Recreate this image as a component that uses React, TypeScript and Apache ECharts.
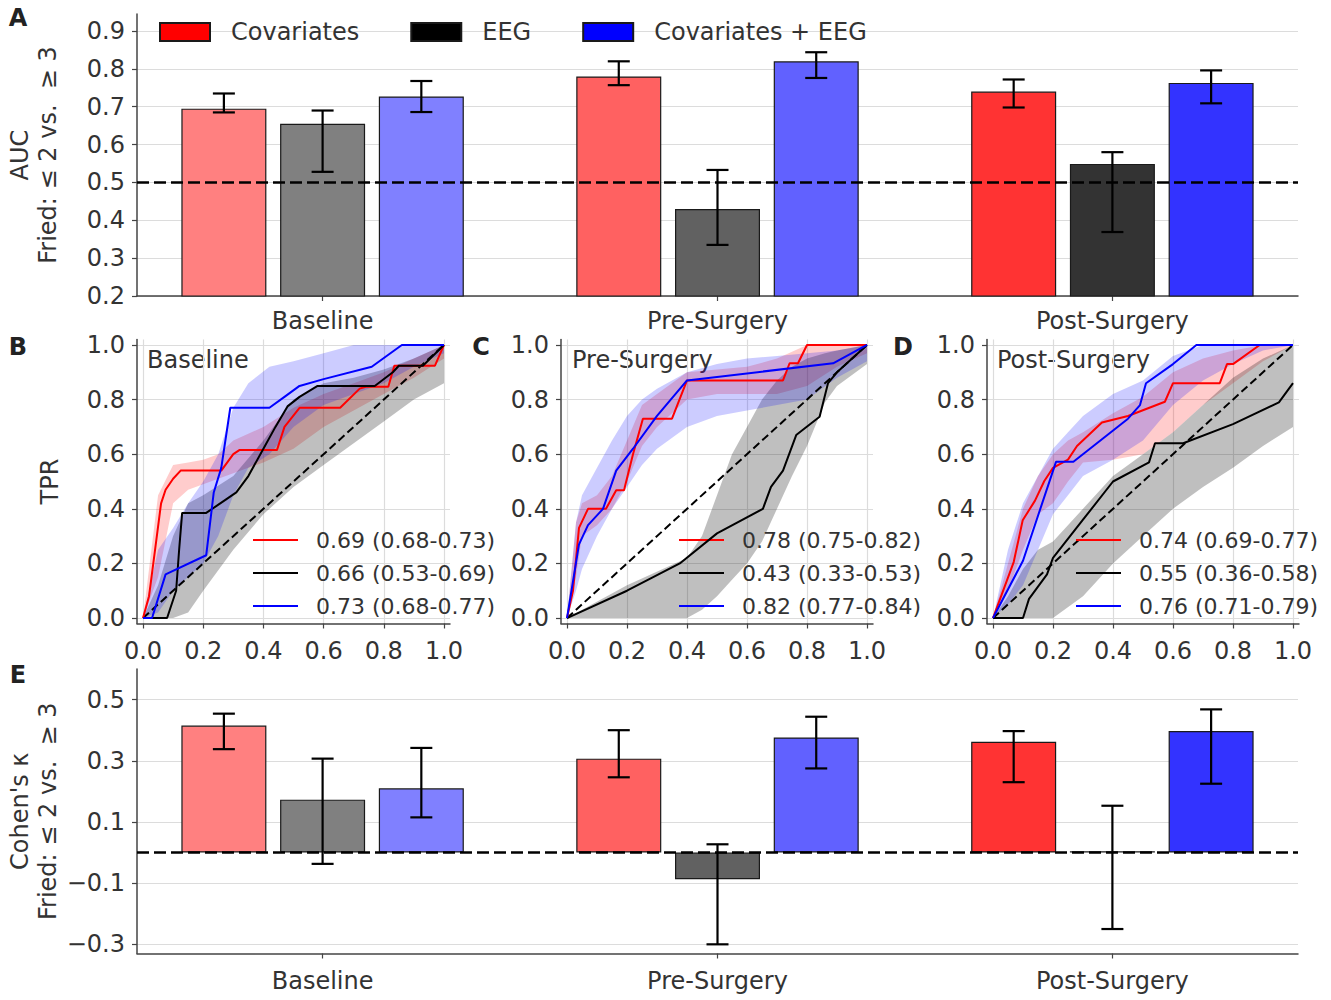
import React, { useEffect, useRef } from "react";
import * as echarts from "echarts";

// ---------- data ----------
const groups = ["Baseline", "Pre-Surgery", "Post-Surgery"];
const models = ["Covariates", "EEG", "Covariates + EEG"];

const aucCov = [0.695, 0.78, 0.74];
const aucCovLo = [0.685, 0.757, 0.698];
const aucCovHi = [0.735, 0.82, 0.772];
const aucEeg = [0.655, 0.43, 0.549];
const aucEegLo = [0.528, 0.335, 0.369];
const aucEegHi = [0.69, 0.533, 0.58];
const aucBoth = [0.727, 0.82, 0.763];
const aucBothLo = [0.686, 0.776, 0.709];
const aucBothHi = [0.768, 0.844, 0.796];

const kapCov = [0.415, 0.307, 0.362];
const kapCovLo = [0.338, 0.246, 0.23];
const kapCovHi = [0.454, 0.4, 0.397];
const kapEeg = [0.173, -0.087, 0.004];
const kapEegLo = [-0.037, -0.3, -0.25];
const kapEegHi = [0.307, 0.027, 0.153];
const kapBoth = [0.21, 0.376, 0.397];
const kapBothLo = [0.115, 0.275, 0.225];
const kapBothHi = [0.342, 0.444, 0.468];

const aucTicks = [0.2, 0.3, 0.4, 0.5, 0.6, 0.7, 0.8, 0.9];
const kapTicks = [-0.3, -0.1, 0.1, 0.3, 0.5];
const rocTicks = [0, 0.2, 0.4, 0.6, 0.8, 1.0];

const rocLegendBase = ["0.69 (0.68-0.73)", "0.66 (0.53-0.69)", "0.73 (0.68-0.77)"];
const rocLegendPre = ["0.78 (0.75-0.82)", "0.43 (0.33-0.53)", "0.82 (0.77-0.84)"];
const rocLegendPost = ["0.74 (0.69-0.77)", "0.55 (0.36-0.58)", "0.76 (0.71-0.79)"];

// mean ROC curves [fpr, tpr]
const rocBaseCov = [[0,0],[0.02,0.08],[0.04,0.25],[0.06,0.42],[0.075,0.47],[0.1,0.51],[0.125,0.54],[0.26,0.54],[0.3,0.6],[0.32,0.615],[0.445,0.615],[0.47,0.7],[0.52,0.77],[0.655,0.77],[0.72,0.84],[0.74,0.847],[0.815,0.847],[0.835,0.924],[0.97,0.924],[1,1]];
const rocBaseEeg = [[0,0],[0.08,0],[0.11,0.1],[0.12,0.25],[0.13,0.385],[0.21,0.385],[0.27,0.43],[0.31,0.46],[0.35,0.52],[0.4,0.62],[0.44,0.7],[0.48,0.775],[0.52,0.81],[0.58,0.85],[0.77,0.85],[0.83,0.9],[0.85,0.924],[0.93,0.924],[1,1]];
const rocBaseBoth = [[0,0],[0.03,0],[0.075,0.16],[0.21,0.23],[0.235,0.46],[0.26,0.55],[0.29,0.77],[0.42,0.77],[0.47,0.81],[0.52,0.85],[0.6,0.875],[0.76,0.92],[0.86,1.0],[1,1]];

const rocPreCov = [[0,0],[0.02,0.1],[0.04,0.33],[0.07,0.4],[0.13,0.4],[0.164,0.468],[0.19,0.468],[0.22,0.6],[0.253,0.73],[0.35,0.73],[0.4,0.87],[0.72,0.87],[0.742,0.933],[0.77,0.933],[0.8,1.0],[1,1]];
const rocPreEeg = [[0,0],[0.2,0.1],[0.376,0.2],[0.5,0.31],[0.653,0.4],[0.68,0.48],[0.72,0.54],[0.764,0.67],[0.842,0.737],[0.87,0.86],[0.9,0.9],[1,1]];
const rocPreBoth = [[0,0],[0.04,0.27],[0.07,0.34],[0.12,0.4],[0.164,0.54],[0.22,0.62],[0.3,0.74],[0.4,0.87],[0.887,0.933],[1,1]];

const rocPostCov = [[0,0],[0.069,0.205],[0.099,0.358],[0.14,0.43],[0.171,0.502],[0.2,0.55],[0.25,0.58],[0.28,0.63],[0.363,0.716],[0.45,0.74],[0.573,0.792],[0.6,0.86],[0.756,0.86],[0.78,0.93],[0.8,0.93],[0.889,1.0],[1,1]];
const rocPostEeg = [[0,0],[0.1,0],[0.12,0.07],[0.18,0.16],[0.2,0.22],[0.3,0.36],[0.4,0.5],[0.52,0.57],[0.54,0.64],[0.634,0.64],[0.8,0.71],[0.953,0.79],[1,0.86]];
const rocPostBoth = [[0,0],[0.1,0.21],[0.21,0.572],[0.268,0.572],[0.45,0.73],[0.49,0.78],[0.51,0.86],[0.6,0.93],[0.678,1.0],[1,1]];

// confidence bands [fpr, lower, upper]
const bandBaseCov = [[0,0,0],[0.05,0.15,0.45],[0.1,0.42,0.56],[0.15,0.47,0.57],[0.2,0.49,0.58],[0.25,0.51,0.6],[0.3,0.53,0.65],[0.4,0.57,0.7],[0.5,0.62,0.77],[0.6,0.7,0.82],[0.7,0.76,0.86],[0.8,0.82,0.9],[0.9,0.88,0.95],[1,0.95,1]];
const bandBaseEeg = [[0,0,0],[0.05,0,0.12],[0.1,0,0.3],[0.15,0.02,0.42],[0.2,0.1,0.45],[0.3,0.25,0.52],[0.4,0.38,0.65],[0.5,0.48,0.8],[0.6,0.56,0.86],[0.7,0.64,0.88],[0.8,0.72,0.91],[0.9,0.8,0.95],[1,0.86,1]];
const bandBaseBoth = [[0,0,0],[0.05,0.02,0.25],[0.1,0.1,0.33],[0.15,0.15,0.42],[0.2,0.2,0.5],[0.25,0.3,0.6],[0.3,0.45,0.77],[0.35,0.55,0.86],[0.42,0.6,0.92],[0.5,0.7,0.94],[0.6,0.78,0.97],[0.7,0.82,1],[0.8,0.86,1],[0.9,0.92,1],[1,0.97,1]];

const bandPreCov = [[0,0,0],[0.03,0.15,0.35],[0.05,0.3,0.42],[0.1,0.34,0.45],[0.15,0.4,0.52],[0.2,0.5,0.65],[0.25,0.63,0.78],[0.3,0.7,0.82],[0.4,0.8,0.9],[0.5,0.82,0.91],[0.6,0.82,0.92],[0.7,0.82,0.95],[0.8,0.85,1],[0.9,0.92,1],[1,0.97,1]];
const bandPreEeg = [[0,0,0],[0.2,0,0.12],[0.4,0,0.22],[0.45,0.03,0.3],[0.5,0.08,0.45],[0.55,0.14,0.6],[0.6,0.2,0.7],[0.65,0.28,0.8],[0.7,0.4,0.87],[0.75,0.52,0.92],[0.8,0.63,0.95],[0.86,0.79,0.97],[0.9,0.85,0.98],[1,0.93,1]];
const bandPreBoth = [[0,0,0],[0.03,0.1,0.35],[0.05,0.18,0.45],[0.1,0.3,0.55],[0.15,0.4,0.65],[0.2,0.48,0.74],[0.25,0.56,0.8],[0.3,0.62,0.84],[0.4,0.7,0.9],[0.5,0.74,0.93],[0.6,0.76,0.95],[0.7,0.78,0.96],[0.8,0.8,0.97],[0.9,0.88,0.98],[1,0.94,1]];

const bandPostCov = [[0,0,0],[0.05,0.1,0.2],[0.1,0.25,0.4],[0.15,0.38,0.52],[0.2,0.42,0.6],[0.25,0.5,0.65],[0.3,0.57,0.68],[0.4,0.58,0.75],[0.5,0.6,0.81],[0.6,0.68,0.9],[0.7,0.78,0.95],[0.8,0.86,0.98],[0.9,0.94,1],[1,1,1]];
const bandPostEeg = [[0,0,0],[0.05,0,0.08],[0.1,0,0.18],[0.15,0,0.25],[0.2,0,0.28],[0.3,0.08,0.4],[0.4,0.2,0.52],[0.5,0.3,0.6],[0.6,0.4,0.68],[0.7,0.48,0.78],[0.8,0.55,0.88],[0.9,0.63,0.95],[1,0.7,1]];
const bandPostBoth = [[0,0,0],[0.05,0.05,0.25],[0.1,0.12,0.42],[0.15,0.25,0.52],[0.2,0.38,0.62],[0.25,0.45,0.68],[0.3,0.52,0.74],[0.4,0.58,0.82],[0.5,0.65,0.87],[0.6,0.78,0.96],[0.7,0.87,1],[0.8,0.93,1],[0.9,0.98,1],[1,1,1]];

// ---------- styling ----------
const FONT = "DejaVu Sans";
const TXT = "#333333";
const lineColors = ["#ff0000", "#000000", "#0000ff"];
const bandColors = ["rgba(255,0,0,0.2)", "rgba(0,0,0,0.25)", "rgba(0,0,255,0.2)"];
const barFills = [
  ["#ff8080", "#ff6161", "#ff3333"],
  ["#808080", "#616161", "#333333"],
  ["#8080ff", "#6161ff", "#3333ff"],
];
const barOffsets = [-0.25, 0, 0.25];

const fmt1 = (v: number) => (v < 0 ? "\u2212" + Math.abs(v).toFixed(1) : v.toFixed(1));

function buildOption() {
  const grids = [
    { left: 137, top: 14, width: 1161, height: 282 },
    { left: 137, top: 339.5, width: 313, height: 284 },
    { left: 561, top: 339.5, width: 312, height: 284 },
    { left: 987, top: 339.5, width: 312, height: 284 },
    { left: 137, top: 669, width: 1161, height: 284.5 },
  ].map((g) => ({ ...g, containLabel: false, outerBoundsMode: "none" }));

  const spine = { show: true, onZero: false, lineStyle: { color: "#444", width: 1.5 } };
  const tick = (vals: number[]) => ({ show: true, customValues: vals, length: 5, lineStyle: { color: "#444", width: 1.2 } });
  const split = { show: true, lineStyle: { color: "#dcdcdc", width: 1.2 } };
  const lab = (vals: number[], formatter: any, margin: number) => ({
    customValues: vals, formatter, margin, color: TXT, fontSize: 24, fontFamily: FONT,
  });

  const groupFmt = (v: number) => groups[Math.round(v)] ?? "";

  const xAxis: any[] = [
    { type: "value", gridIndex: 0, min: -0.47, max: 2.47, axisLine: spine, axisTick: tick([0, 1, 2]), splitLine: { show: false }, axisLabel: lab([0, 1, 2], groupFmt, 13) },
    ...[1, 2, 3].map((g) => ({ type: "value", gridIndex: g, min: -0.02, max: 1.02, axisLine: spine, axisTick: tick(rocTicks), splitLine: split, axisLabel: lab(rocTicks, fmt1, 15) })),
    { type: "value", gridIndex: 4, min: -0.47, max: 2.47, axisLine: spine, axisTick: tick([0, 1, 2]), splitLine: { show: false }, axisLabel: lab([0, 1, 2], groupFmt, 15) },
  ];
  const nameStyle = { color: TXT, fontSize: 24, fontFamily: FONT, lineHeight: 28 };
  const yAxis: any[] = [
    { type: "value", gridIndex: 0, min: 0.2, max: 0.945, axisLine: spine, axisTick: tick(aucTicks), splitLine: split, axisLabel: lab(aucTicks, fmt1, 12),
      name: "AUC\nFried: \u2264 2 vs.  \u2265 3", nameLocation: "middle", nameRotate: 90, nameGap: 75, nameMoveOverlap: false, nameTextStyle: nameStyle },
    ...[1, 2, 3].map((g) => ({ type: "value", gridIndex: g, min: -0.02, max: 1.02, axisLine: spine, axisTick: tick(rocTicks), splitLine: split, axisLabel: lab(rocTicks, fmt1, 12),
      name: g === 1 ? "TPR" : "", nameLocation: "middle", nameRotate: 90, nameGap: 73, nameMoveOverlap: false, nameTextStyle: nameStyle })),
    { type: "value", gridIndex: 4, min: -0.33, max: 0.6, axisLine: spine, axisTick: tick(kapTicks), splitLine: split, axisLabel: lab(kapTicks, fmt1, 12),
      name: "Cohen's \u03ba\nFried: \u2264 2 vs.  \u2265 3", nameLocation: "middle", nameRotate: 90, nameGap: 75, nameMoveOverlap: false, nameTextStyle: nameStyle },
  ];

  const series: any[] = [];

  const errRender = (params: any, api: any) => {
    const x = api.value(0), lo = api.value(1), hi = api.value(2);
    const a = api.coord([x, lo]);
    const b = api.coord([x, hi]);
    const h = 11;
    const style = { stroke: "#000", lineWidth: 2.2 };
    return {
      type: "group",
      children: [
        { type: "line", shape: { x1: a[0], y1: a[1], x2: b[0], y2: b[1] }, style },
        { type: "line", shape: { x1: a[0] - h, y1: a[1], x2: a[0] + h, y2: a[1] }, style },
        { type: "line", shape: { x1: b[0] - h, y1: b[1], x2: b[0] + h, y2: b[1] }, style },
      ],
    };
  };

  const barPanel = (gi: number, vals: number[][], los: number[][], his: number[][], ref: number) => {
    models.forEach((m, mi) => {
      series.push({
        type: "bar", name: m, xAxisIndex: gi, yAxisIndex: gi, barWidth: 85, barGap: "-100%",
        itemStyle: { color: lineColors[mi], borderColor: "#1a1a1a", borderWidth: 1.2 },
        data: groups.map((_, i) => ({ value: [i + barOffsets[mi], vals[mi][i]], itemStyle: { color: barFills[mi][i] } })),
        markLine: mi === 0 ? {
          silent: true, symbol: ["none", "none"], label: { show: false }, z: 6,
          lineStyle: { color: "#000", type: [12, 5], width: 2.5 },
          data: [{ yAxis: ref }],
        } : undefined,
        z: 2,
      });
    });
    const errData: number[][] = [];
    models.forEach((_, mi) => groups.forEach((__, i) => errData.push([i + barOffsets[mi], los[mi][i], his[mi][i]])));
    series.push({
      type: "custom", name: "err" + gi, xAxisIndex: gi, yAxisIndex: gi, renderItem: errRender,
      encode: { x: 0, y: [1, 2] }, data: errData, z: 7,
    });
  };

  barPanel(0, [aucCov, aucEeg, aucBoth], [aucCovLo, aucEegLo, aucBothLo], [aucCovHi, aucEegHi, aucBothHi], 0.5);
  barPanel(4, [kapCov, kapEeg, kapBoth], [kapCovLo, kapEegLo, kapBothLo], [kapCovHi, kapEegHi, kapBothHi], 0);

  const rocPanels = [
    { curves: [rocBaseCov, rocBaseEeg, rocBaseBoth], bands: [bandBaseCov, bandBaseEeg, bandBaseBoth], names: rocLegendBase },
    { curves: [rocPreCov, rocPreEeg, rocPreBoth], bands: [bandPreCov, bandPreEeg, bandPreBoth], names: rocLegendPre },
    { curves: [rocPostCov, rocPostEeg, rocPostBoth], bands: [bandPostCov, bandPostEeg, bandPostBoth], names: rocLegendPost },
  ];

  rocPanels.forEach((p, pi) => {
    const ax = pi + 1;
    p.bands.forEach((band, bi) => {
      series.push({
        type: "custom", name: "band" + ax + "-" + bi, xAxisIndex: ax, yAxisIndex: ax, z: 1, silent: true,
        data: [[0, 0]],
        renderItem: (params: any, api: any) => {
          const upper = band.map((d) => api.coord([d[0], d[2]]));
          const lower = band.slice().reverse().map((d) => api.coord([d[0], d[1]]));
          return { type: "polygon", shape: { points: upper.concat(lower) }, style: { fill: bandColors[bi], stroke: "none" } };
        },
      });
    });
    series.push({
      type: "line", name: "chance" + ax, xAxisIndex: ax, yAxisIndex: ax, symbol: "none", silent: true, z: 3,
      lineStyle: { color: "#000", type: [8, 4], width: 2 }, data: [[0, 0], [1, 1]],
    });
    p.curves.forEach((c, ci) => {
      series.push({
        type: "line", name: p.names[ci], xAxisIndex: ax, yAxisIndex: ax, symbol: "none", showSymbol: false, z: 4,
        lineStyle: { color: lineColors[ci], width: 2 }, itemStyle: { color: lineColors[ci] }, data: c,
      });
    });
  });

  const legendText = { color: TXT, fontSize: 22, fontFamily: FONT, padding: [0, 0, 0, 13] };
  const rocLegend = (data: string[], left: number) => ({
    data, orient: "vertical", left, top: 524, itemWidth: 45, itemHeight: 14, itemGap: 11, selectedMode: false,
    itemStyle: { opacity: 0 }, lineStyle: { width: 2 }, textStyle: legendText,
  });
  const legend: any[] = [
    { data: models, orient: "horizontal", left: 154, top: 15, itemWidth: 50, itemHeight: 18, itemGap: 51, selectedMode: false, icon: "rect",
      textStyle: { color: TXT, fontSize: 24, fontFamily: FONT, padding: [0, 0, 0, 16] } },
    rocLegend(rocLegendBase, 247),
    rocLegend(rocLegendPre, 673),
    rocLegend(rocLegendPost, 1070),
  ];

  const letter = (t: string, x: number, y: number) => ({
    type: "text", x, y, style: { text: t, fill: "#222", font: `bold 24px "${FONT}"`, textAlign: "center", textVerticalAlign: "middle" },
  });
  const panelTitle = (t: string, x: number, y: number) => ({
    type: "text", x, y, style: { text: t, fill: TXT, font: `24px "${FONT}"`, textAlign: "left", textVerticalAlign: "middle" },
  });

  return {
    animation: false,
    backgroundColor: "#ffffff",
    textStyle: { fontFamily: FONT },
    grid: grids,
    xAxis,
    yAxis,
    legend,
    series,
    graphic: [
      letter("A", 18, 18),
      letter("B", 18, 347),
      letter("C", 481, 347),
      letter("D", 903, 347),
      letter("E", 18, 675),
      panelTitle(groups[0], 147, 360),
      panelTitle(groups[1], 572, 360),
      panelTitle(groups[2], 997, 360),
    ],
  };
}

export default function App() {
  const ref = useRef<HTMLDivElement>(null);
  useEffect(() => {
    if (!ref.current) return;
    const chart = echarts.init(ref.current, undefined, { renderer: "svg" });
    chart.setOption(buildOption() as any);
    return () => chart.dispose();
  }, []);
  return (
    <div
      ref={ref}
      style={{ position: "fixed", left: 0, top: 0, width: 1331, height: 1000, background: "#fff" }}
    />
  );
}
